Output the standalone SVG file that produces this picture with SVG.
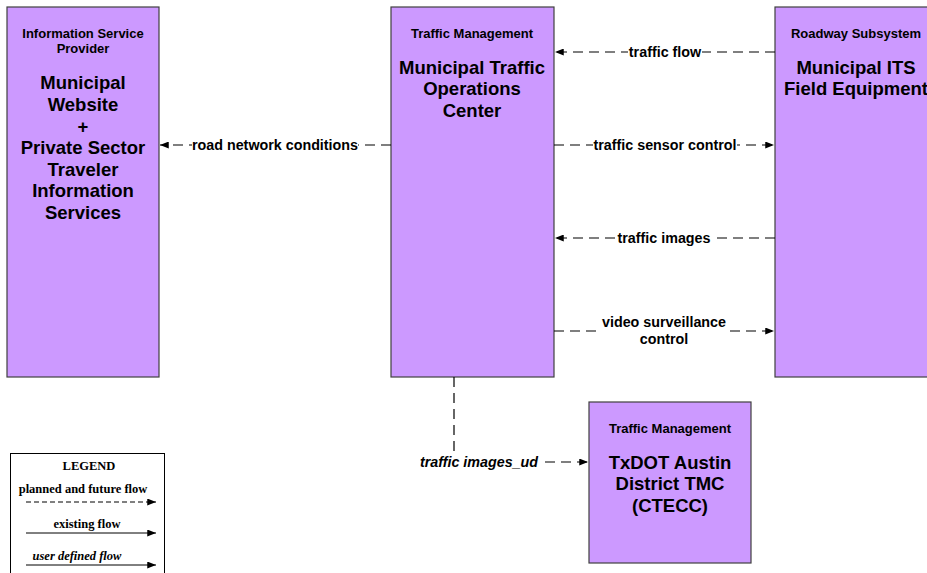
<svg xmlns="http://www.w3.org/2000/svg" width="927" height="573" viewBox="0 0 927 573">
<style>
.box{fill:#cc99ff;stroke:#404040;stroke-width:1.2}
.sub{font-family:"Liberation Sans",Arial,sans-serif;font-size:13px;font-weight:bold;text-anchor:middle;fill:#000}
.ttl{font-family:"Liberation Sans",Arial,sans-serif;font-size:18.5px;font-weight:bold;text-anchor:middle;fill:#000}
.flow{fill:none;stroke:#000;stroke-width:1.2;stroke-dasharray:10,6}
.lbl{font-family:"Liberation Sans",Arial,sans-serif;font-size:14.3px;font-weight:bold;text-anchor:middle;fill:#000}
.lb{fill:#fff}
.leg{font-family:"Liberation Serif","Times New Roman",serif;font-size:12.5px;font-weight:bold;text-anchor:middle;fill:#000}
</style>
<defs>
<marker id="ah" viewBox="0 0 10 8" refX="10" refY="4" markerWidth="9" markerHeight="7" markerUnits="userSpaceOnUse" orient="auto">
<path d="M0,0 L10,4 L0,8 z" fill="#000"/>
</marker>
</defs>
<rect width="927" height="573" fill="#fff"/>
<g id="isp">
<rect class="box" x="7" y="7" width="152" height="370"/>
<text class="sub" x="83" y="38">Information Service</text>
<text class="sub" x="83" y="53">Provider</text>
<text class="ttl" x="83" y="89">Municipal</text>
<text class="ttl" x="83" y="111">Website</text>
<text class="ttl" x="83" y="133">+</text>
<text class="ttl" x="83" y="154">Private Sector</text>
<text class="ttl" x="83" y="176">Traveler</text>
<text class="ttl" x="83" y="197">Information</text>
<text class="ttl" x="83" y="219">Services</text>
</g>
<g id="tmc">
<rect class="box" x="391" y="7" width="163" height="370"/>
<text class="sub" x="472" y="38">Traffic Management</text>
<text class="ttl" x="472" y="74">Municipal Traffic</text>
<text class="ttl" x="472" y="95">Operations</text>
<text class="ttl" x="472" y="117">Center</text>
</g>
<g id="field">
<rect class="box" x="775" y="7" width="163" height="370"/>
<text class="sub" x="856" y="38">Roadway Subsystem</text>
<text class="ttl" x="856" y="74">Municipal ITS</text>
<text class="ttl" x="856" y="95">Field Equipment</text>
</g>
<g id="txdot">
<rect class="box" x="589" y="402" width="162" height="161"/>
<text class="sub" x="670" y="433">Traffic Management</text>
<text class="ttl" x="670" y="469">TxDOT Austin</text>
<text class="ttl" x="670" y="490">District TMC</text>
<text class="ttl" x="670" y="512">(CTECC)</text>
</g>
<g id="connectors">
<line class="flow" x1="775" y1="52" x2="555" y2="52" marker-end="url(#ah)"/>
<rect class="lb" x="628" y="44" width="74" height="16"/>
<text class="lbl" x="665" y="57">traffic flow</text>
<line class="flow" x1="391" y1="145" x2="160" y2="145" marker-end="url(#ah)"/>
<rect class="lb" x="192" y="137" width="166" height="16"/>
<text class="lbl" x="275" y="150">road network conditions</text>
<line class="flow" x1="554" y1="145" x2="774" y2="145" marker-end="url(#ah)"/>
<rect class="lb" x="593" y="137" width="144" height="16"/>
<text class="lbl" x="665" y="150">traffic sensor control</text>
<line class="flow" x1="775" y1="238" x2="555" y2="238" marker-end="url(#ah)"/>
<rect class="lb" x="617" y="230" width="94" height="16"/>
<text class="lbl" x="664" y="243">traffic images</text>
<line class="flow" x1="554" y1="331" x2="774" y2="331" marker-end="url(#ah)"/>
<rect class="lb" x="601" y="314" width="126" height="34"/>
<text class="lbl" x="664" y="327">video surveillance</text>
<text class="lbl" x="664" y="344">control</text>
<polyline class="flow" points="454,377 454,462 588,462" marker-end="url(#ah)"/>
<rect class="lb" x="418" y="453" width="122" height="17"/>
<text class="lbl" x="479" y="467" font-style="italic">traffic images_ud</text>
</g>
<g id="legend">
<rect x="10.5" y="453.5" width="154" height="125" fill="#fff" stroke="#000" stroke-width="1"/>
<text class="leg" x="89" y="470">LEGEND</text>
<text class="leg" x="83" y="493">planned and future flow</text>
<line x1="26" y1="502" x2="156" y2="502" stroke="#000" stroke-width="1" stroke-dasharray="5,3" marker-end="url(#ah)"/>
<text class="leg" x="87" y="528">existing flow</text>
<line x1="26" y1="533" x2="156" y2="533" stroke="#000" stroke-width="1" marker-end="url(#ah)"/>
<text class="leg" x="77" y="560" font-style="italic">user defined flow</text>
<line x1="26" y1="565" x2="156" y2="565" stroke="#000" stroke-width="1" marker-end="url(#ah)"/>
</g>
</svg>
